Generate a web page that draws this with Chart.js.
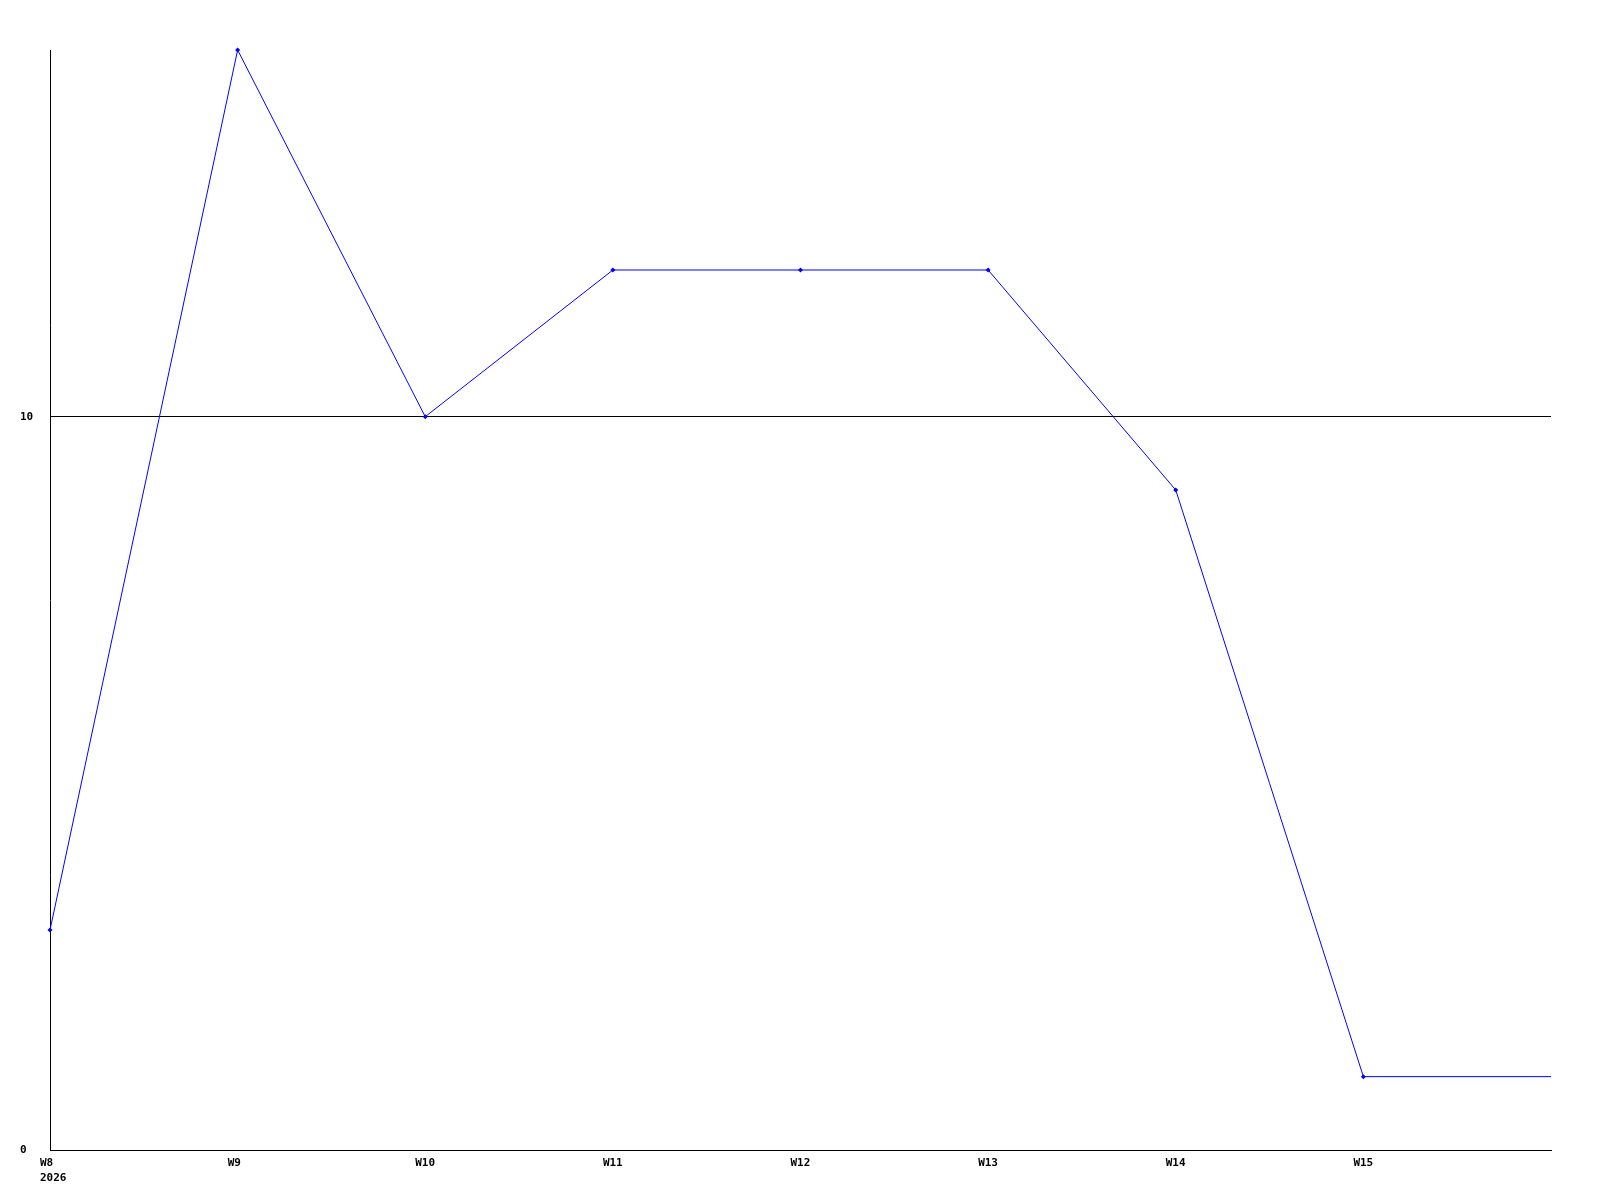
<!DOCTYPE html>
<html>
<head>
<meta charset="utf-8">
<script src="https://cdn.jsdelivr.net/npm/chart.js@4/dist/chart.umd.min.js"></script>
<style>
  html, body { margin: 0; padding: 0; background: #fff; }
  #wrap { width: 1600px; height: 1200px; }
</style>
</head>
<body>
<div id="wrap"><canvas id="weekChart"></canvas></div>
<script>
const weeks = ['W8', 'W9', 'W10', 'W11', 'W12', 'W13', 'W14', 'W15', 'W16'];
const counts = [3, 15, 10, 12, 12, 12, 9, 1, 1];
const yearLabel = '2026';
const yTicks = [0, 10];

const tickFont = { family: '"DejaVu Sans Mono", monospace', size: 11, weight: 'bold', lineHeight: 1.35 };

const ctx = document.getElementById('weekChart').getContext('2d');

// last point only continues the line to the edge, no marker
const radii = counts.map((v, i) => i === counts.length - 1 ? 0 : 2.5);

new Chart(ctx, {
  type: 'line',
  data: {
    labels: weeks,
    datasets: [{
      data: counts,
      borderColor: '#0000ff',
      backgroundColor: '#0000ff',
      borderWidth: 1,
      pointStyle: 'rectRot',
      pointRadius: radii,
      pointBorderWidth: 0,
      tension: 0,
      fill: false,
      clip: false
    }]
  },
  options: {
    responsive: true,
    maintainAspectRatio: false,
    animation: false,
    layout: { padding: { left: 20, top: 50, right: 49, bottom: 0 } },
    plugins: {
      legend: { display: false },
      tooltip: { enabled: false }
    },
    scales: {
      x: {
        type: 'category',
        offset: false,
        grid: { display: false, drawTicks: false },
        border: { display: true, color: '#000', width: 1 },
        ticks: {
          color: '#000',
          font: tickFont,
          align: 'start',
          labelOffset: -10,
          padding: 6,
          autoSkip: false,
          maxRotation: 0,
          callback: (v, i) => {
            if (i === 0) return [weeks[0], yearLabel];
            if (i === weeks.length - 1) return '';
            return weeks[i];
          }
        },
        afterFit: (scale) => { scale.height = 50; }
      },
      y: {
        min: 0,
        max: 15,
        grid: { color: '#000', lineWidth: 1, drawTicks: false },
        border: { display: true, color: '#000', width: 1 },
        afterBuildTicks: (scale) => { scale.ticks = yTicks.map(v => ({ value: v })); },
        ticks: {
          color: '#000',
          font: tickFont,
          crossAlign: 'far',
          padding: 0
        },
        afterFit: (scale) => { scale.width = 30; }
      }
    }
  }
});
</script>
</body>
</html>
